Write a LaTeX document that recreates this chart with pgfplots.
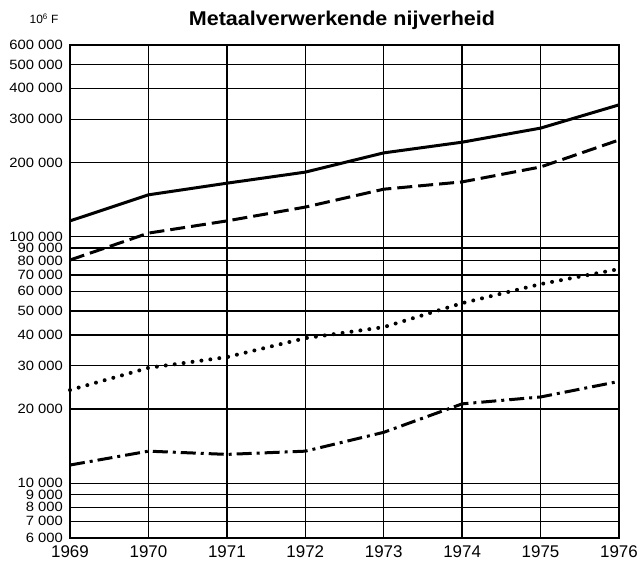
\documentclass[border=0pt]{standalone}
\usepackage{pgfplots}
\pgfplotsset{compat=1.18}
\usepackage{fontspec}
\setmainfont{Liberation Sans}
\begin{document}
\begin{tikzpicture}
\useasboundingbox (0,0) rectangle (641bp,565bp);
\begin{axis}[
  at={(70bp,27bp)}, anchor=south west,
  scale only axis, width=549bp, height=493bp,
  ymode=log, xmin=1969, xmax=1976, ymin=6000, ymax=600000,
  xtick={1969,1970,1971,1972,1973,1974,1975,1976},
  xticklabels={1969,1970,1971,1972,1973,1974,1975,1976},
  ytick={6000,7000,8000,9000,10000,20000,30000,40000,50000,60000,70000,80000,90000,100000,200000,300000,400000,500000,600000},
  yticklabels={6 000,7 000,8 000,9 000,10 000,20 000,30 000,40 000,50 000,60 000,70 000,80 000,90 000,100 000,200 000,300 000,400 000,500 000,600 000},
  minor ytick={}, major tick length=0pt,
  xmajorgrids, ymajorgrids,
  grid style={black, line width=1.3bp},
  axis line style={black, line width=2bp},
  yticklabel style={font=\fontsize{13.5}{13.5}\selectfont, inner sep=0pt, xshift=-7bp, xscale=1.1, text height=9bp, text depth=0bp},
  xticklabel style={font=\fontsize{17}{17}\selectfont, yshift=-4bp},
  clip=false,
]
\addplot[black, line width=3bp] coordinates {
(1969,116000) (1970,148000) (1971,165000) (1972,183000) (1973,219000) (1974,242000) (1975,276000) (1976,343000)};
\addplot[black, line width=3bp, dash pattern=on 15bp off 6bp] coordinates {
(1969,80500) (1970,103500) (1971,116000) (1972,132000) (1973,156000) (1974,167000) (1975,192000) (1976,247000)};
\addplot[black, line width=4bp, line cap=round, dash pattern=on 0bp off 9bp] coordinates {
(1969,23900) (1970,29400) (1971,32500) (1972,38800) (1973,43000) (1974,53800) (1975,64300) (1976,74000)};
\addplot[black, line width=3bp, dash pattern=on 15bp off 5bp on 3bp off 5bp] coordinates {
(1969,11860) (1970,13500) (1971,13100) (1972,13500) (1973,16100) (1974,21000) (1975,22400) (1976,25900)};
\end{axis}
\node[font=\bfseries\fontsize{20}{20}\selectfont, xscale=1.08] at (342bp,545bp) {Metaalverwerkende nijverheid};
\node[font=\fontsize{12}{12}\selectfont, anchor=east] at (62bp,546bp) {10\textsuperscript{6} F};
\end{tikzpicture}
\end{document}
